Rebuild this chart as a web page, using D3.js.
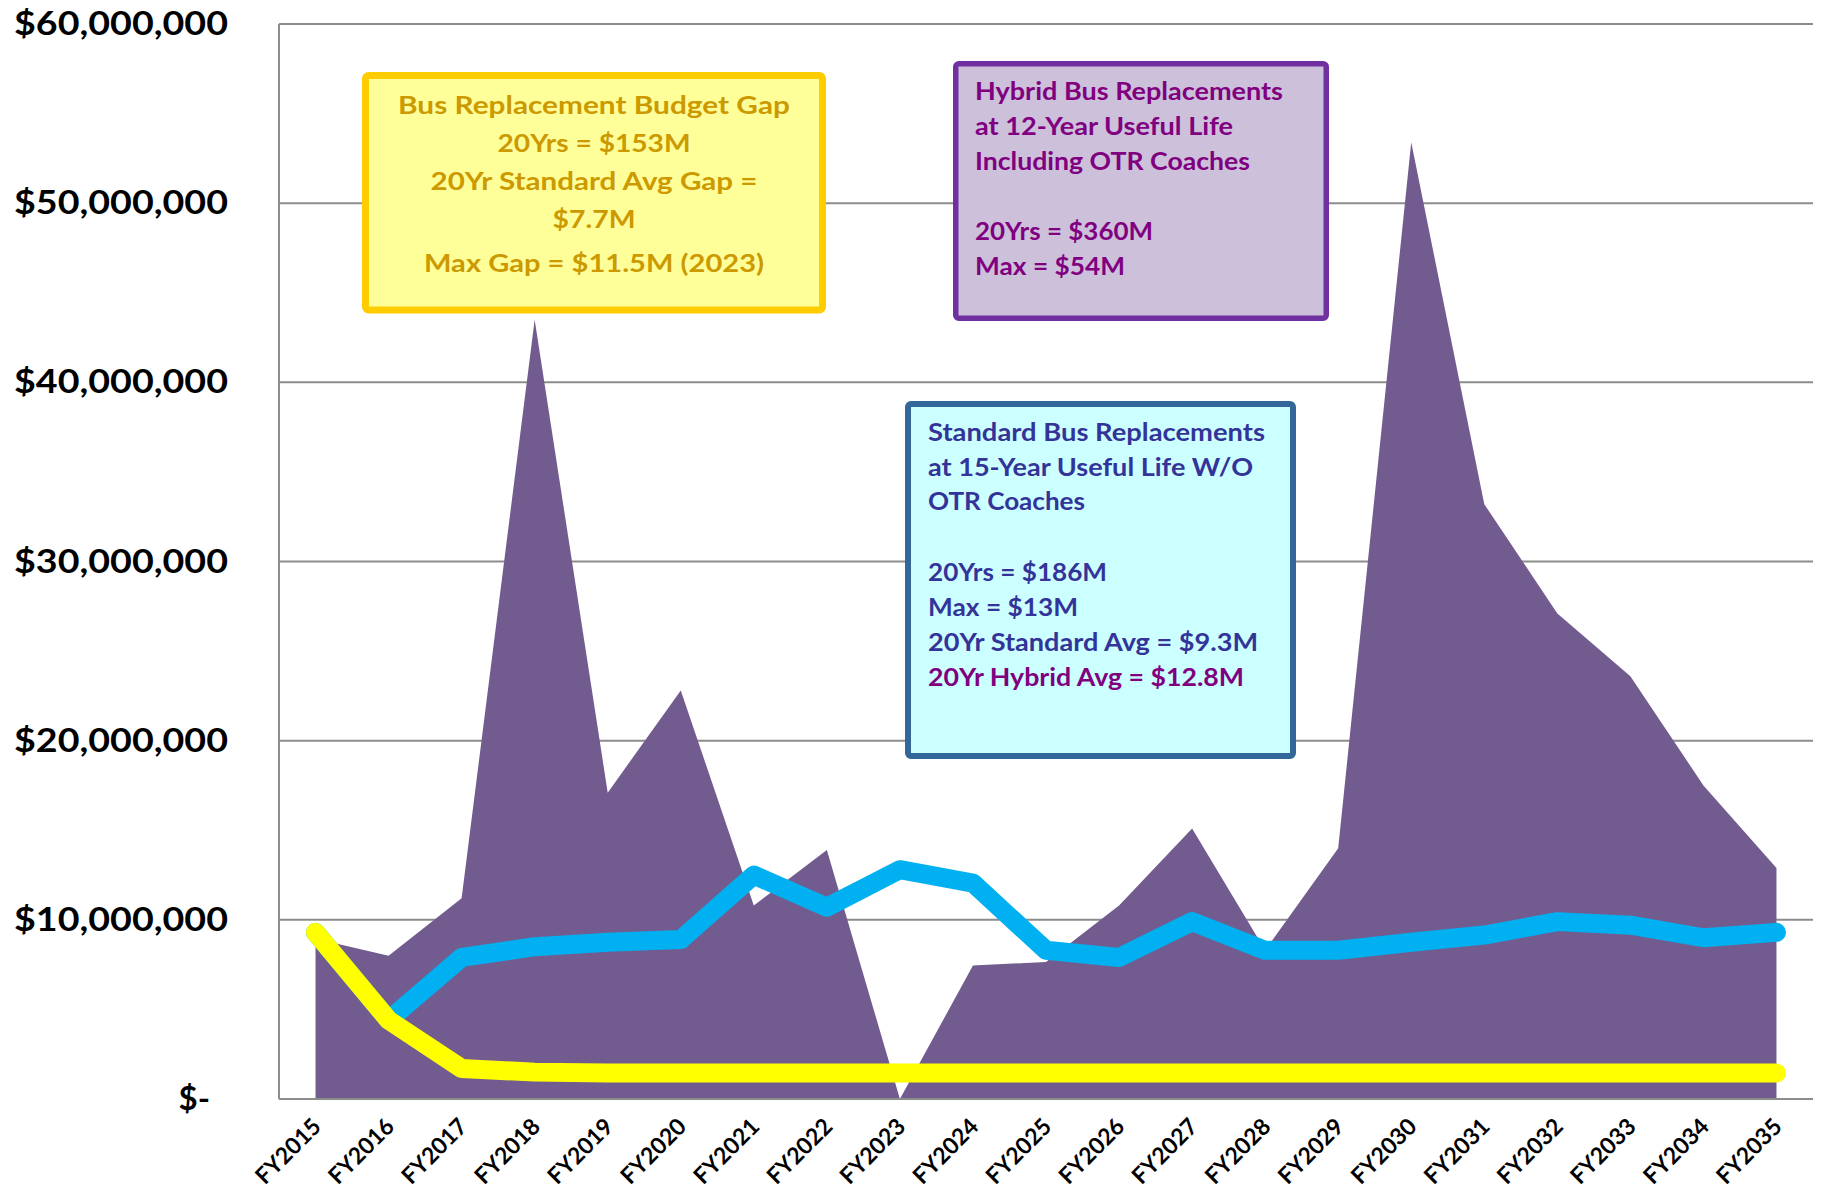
<!DOCTYPE html>
<html><head><meta charset="utf-8">
<script src="https://cdn.jsdelivr.net/npm/d3@7"></script>
<style>
body{margin:0;background:#fff}
svg{display:block}
text{font-family:Lato,"Open Sans",sans-serif;font-weight:700}
</style>
</head><body>
<svg id="c" width="1823" height="1195"></svg>
<script>
const categories = ["FY2015","FY2016","FY2017","FY2018","FY2019","FY2020","FY2021","FY2022","FY2023","FY2024","FY2025","FY2026","FY2027","FY2028","FY2029","FY2030","FY2031","FY2032","FY2033","FY2034","FY2035"];
const hybridValues = [8.95e6,8.0e6,11.2e6,43.5e6,17.1e6,22.8e6,10.8e6,13.9e6,0,7.45e6,7.65e6,10.8e6,15.1e6,8.3e6,14.0e6,53.4e6,33.2e6,27.1e6,23.6e6,17.5e6,12.9e6];
const standardValues = [9.3e6,4.4e6,7.9e6,8.5e6,8.75e6,8.9e6,12.5e6,10.7e6,12.8e6,12.05e6,8.3e6,7.9e6,9.9e6,8.3e6,8.3e6,8.75e6,9.15e6,9.9e6,9.7e6,9.0e6,9.3e6];
const budgetGapValues = [9.3e6,4.4e6,1.7e6,1.5e6,1.45e6,1.45e6,1.45e6,1.45e6,1.45e6,1.45e6,1.45e6,1.45e6,1.45e6,1.45e6,1.45e6,1.45e6,1.45e6,1.45e6,1.45e6,1.45e6,1.45e6];
const yTicks = [0,10e6,20e6,30e6,40e6,50e6,60e6];
const yTickLabels = ["$-","$10,000,000","$20,000,000","$30,000,000","$40,000,000","$50,000,000","$60,000,000"];

const yellowLines = ["Bus Replacement Budget Gap","20Yrs = $153M","20Yr Standard Avg Gap =","$7.7M","Max Gap = $11.5M (2023)"];
const purpleLines = ["Hybrid Bus Replacements","at 12-Year Useful Life","Including OTR Coaches","","20Yrs = $360M","Max = $54M"];
const cyanLines = ["Standard Bus Replacements","at 15-Year Useful Life W/O","OTR Coaches","","20Yrs = $186M","Max = $13M","20Yr Standard Avg = $9.3M","20Yr Hybrid Avg = $12.8M"];

const L = 279, R = 1813, T = 24, B = 1099;
const svg = d3.select("#c");
const x = d3.scaleBand().domain(categories).range([L, R]).padding(0);
const cx = c => x(c) + x.bandwidth() / 2;
const y = d3.scaleLinear().domain([0, 60e6]).range([B, T]);

// gridlines
svg.append("g").selectAll("line").data(yTicks.filter(d => d > 0)).join("line")
  .attr("x1", L).attr("x2", R).attr("y1", d => y(d)).attr("y2", d => y(d))
  .attr("stroke", "#8c8c8c").attr("stroke-width", 2);

// area
const area = d3.area().x((d, i) => cx(categories[i])).y0(y(0)).y1(d => y(d));
svg.append("path").datum(hybridValues).attr("d", area).attr("fill", "#725b8f");

// axes lines
svg.append("line").attr("x1", L).attr("x2", L).attr("y1", T).attr("y2", B).attr("stroke", "#8c8c8c").attr("stroke-width", 2);
svg.append("line").attr("x1", L).attr("x2", R).attr("y1", B).attr("y2", B).attr("stroke", "#8c8c8c").attr("stroke-width", 2);

// y labels
const yl = svg.append("g");
yTicks.forEach((d, i) => {
  const t = yl.append("text").attr("text-anchor", "end").attr("font-size", 33).attr("fill", "#000")
    .attr("y", y(d) + 11).text(yTickLabels[i]);
  if (d === 0) { t.attr("x", 210); }
  else { t.attr("x", 228).attr("textLength", 214).attr("lengthAdjust", "spacingAndGlyphs"); }
});

// x labels
const xl = svg.append("g");
categories.forEach(c => {
  xl.append("text").attr("text-anchor", "end").attr("font-size", 23).attr("fill", "#000")
    .attr("transform", `translate(${cx(c) + 7},${1128}) rotate(-45)`).text(c);
});

// lines
const line = d3.line().x((d, i) => cx(categories[i])).y(d => y(d));
svg.append("path").datum(standardValues).attr("d", line).attr("fill", "none")
  .attr("stroke", "#00b0f0").attr("stroke-width", 19).attr("stroke-linejoin", "round").attr("stroke-linecap", "round");
svg.append("path").datum(budgetGapValues).attr("d", line).attr("fill", "none")
  .attr("stroke", "#ffff00").attr("stroke-width", 19).attr("stroke-linejoin", "round").attr("stroke-linecap", "round");

// annotation boxes
function box(rect, stroke, fill, sw) {
  svg.append("rect").attr("x", rect[0]).attr("y", rect[1]).attr("width", rect[2]).attr("height", rect[3])
    .attr("rx", 3).attr("fill", fill).attr("stroke", stroke).attr("stroke-width", sw);
}
box([365.5, 75.5, 457, 234.5], "#ffcc00", "#ffff99", 7);
box([955.75, 63.75, 370.5, 254.5], "#7030a0", "#ccc0da", 5.5);
box([908, 404, 385, 352], "#336699", "#ccffff", 6);

const yBase = [114, 152, 190, 228, 272];
const yW = [392, 193, 327, 83, 340];
yellowLines.forEach((s, i) => {
  svg.append("text").attr("x", 594).attr("y", yBase[i]).attr("text-anchor", "middle")
    .attr("font-size", 25.5).attr("fill", "#cc9900")
    .attr("textLength", yW[i]).attr("lengthAdjust", "spacingAndGlyphs").text(s);
});
const pBase = [100, 135, 170, 0, 240, 275];
const pW = [308, 258, 275, 0, 178, 150];
purpleLines.forEach((s, i) => {
  if (!s) return;
  svg.append("text").attr("x", 975).attr("y", pBase[i]).attr("font-size", 25.5).attr("fill", "#800080")
    .attr("textLength", pW[i]).attr("lengthAdjust", "spacingAndGlyphs").text(s);
});
const cBase = [441, 476, 510, 0, 581, 616, 651, 686];
const cW = [337, 325, 157, 0, 179, 150, 330, 316];
cyanLines.forEach((s, i) => {
  if (!s) return;
  svg.append("text").attr("x", 928).attr("y", cBase[i]).attr("font-size", 25.5)
    .attr("fill", i === 7 ? "#800080" : "#333399")
    .attr("textLength", cW[i]).attr("lengthAdjust", "spacingAndGlyphs").text(s);
});
</script>
</body></html>
